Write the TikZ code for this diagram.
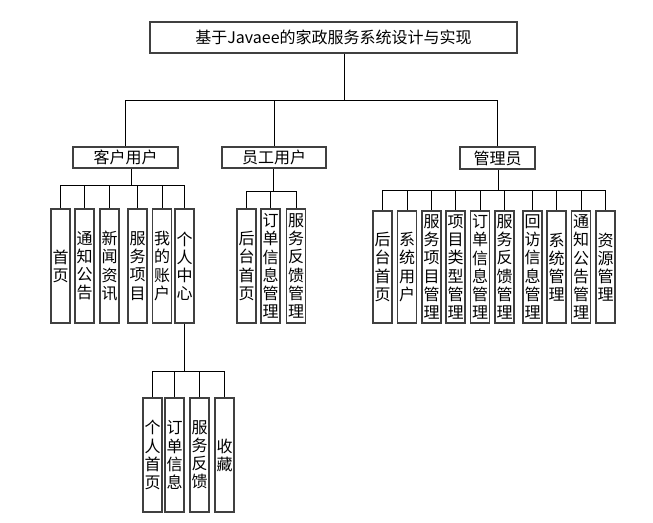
\documentclass[tikz,border=0pt]{standalone}
\usepackage{fontspec}
\setmainfont{Noto Sans CJK SC}
\tikzset{
    box/.style={draw=black!75, line width=1pt, inner sep=0pt, font=\fontsize{12}{13.6}\selectfont},
    leaf/.style={box, minimum width=14.25pt, minimum height=85.5pt, align=center},
    link/.style={draw=black, line width=0.75pt}
}
\begin{document}
\begin{tikzpicture}[x=0.75pt, y=-0.75pt]
    \useasboundingbox (0,0) rectangle (653,522);

    % Top and second level
    \node[box, minimum width=275.25pt, minimum height=23.25pt] (title) at (333.5,37.5) {基于Javaee的家政服务系统设计与实现};
    \node[box, minimum width=78.75pt, minimum height=15.75pt] (kehu) at (125.5,157.5) {客户用户};
    \node[box, minimum width=78pt, minimum height=15.75pt] (yuangong) at (274,157.5) {员工用户};
    \node[box, minimum width=56.25pt, minimum height=16.5pt] (guanli) at (497.5,158) {管理员};

    % Bus points
    \coordinate (topbus) at (344,100);
    \coordinate (khbus) at (131,185);
    \coordinate (ygbus) at (273,191);
    \coordinate (glbus) at (498,190);
    \coordinate (grbus) at (184,371);

    \draw[link] (title.south -| topbus) -- (topbus);
    \draw[link] (topbus) -| (kehu);
    \draw[link] (topbus) -| (yuangong);
    \draw[link] (topbus) -| (guanli);
    \draw[link] (kehu.south -| khbus) -- (khbus);
    \draw[link] (yuangong.south -| ygbus) -- (ygbus);
    \draw[link] (guanli.south -| glbus) -- (glbus);

    % Customer pages
    \foreach \name/\x/\label in {kh1/60.5/首\\页, kh2/84.5/通\\知\\公\\告, kh3/109.5/新\\闻\\资\\讯, kh4/137.5/服\\务\\项\\目, kh5/162/我\\的\\账\\户, kh6/184.5/个\\人\\中\\心} {
        \node[leaf] (\name) at (\x,266) {\label};
        \draw[link] (khbus) -| (\name);
    }

    % Staff pages
    \foreach \name/\x/\label in {yg1/246.5/后\\台\\首\\页, yg2/270.5/订\\单\\信\\息\\管\\理, yg3/296/服\\务\\反\\馈\\管\\理} {
        \node[leaf] (\name) at (\x,266) {\label};
        \draw[link] (ygbus) -| (\name);
    }

    % Admin pages
    \foreach \name/\x/\label in {gl1/382.5/后\\台\\首\\页, gl2/407/系\\统\\用\\户, gl3/431.5/服\\务\\项\\目\\管\\理, gl4/455.5/项\\目\\类\\型\\管\\理, gl5/480/订\\单\\信\\息\\管\\理, gl6/504.5/服\\务\\反\\馈\\管\\理, gl7/532.5/回\\访\\信\\息\\管\\理, gl8/556.5/系\\统\\管\\理, gl9/581/通\\知\\公\\告\\管\\理, gl10/605.5/资\\源\\管\\理} {
        \node[leaf, minimum height=84pt] (\name) at (\x,267) {\label};
        \draw[link] (glbus) -| (\name);
    }

    % Personal centre pages
    \draw[link] (kh6.south -| grbus) -- (grbus);
    \foreach \name/\x/\label in {gr1/152.5/个\\人\\首\\页, gr2/174.5/订\\单\\信\\息, gr3/199.5/服\\务\\反\\馈, gr4/224.5/收\\藏} {
        \node[leaf] (\name) at (\x,455) {\label};
        \draw[link] (grbus) -| (\name);
    }
\end{tikzpicture}
\end{document}
